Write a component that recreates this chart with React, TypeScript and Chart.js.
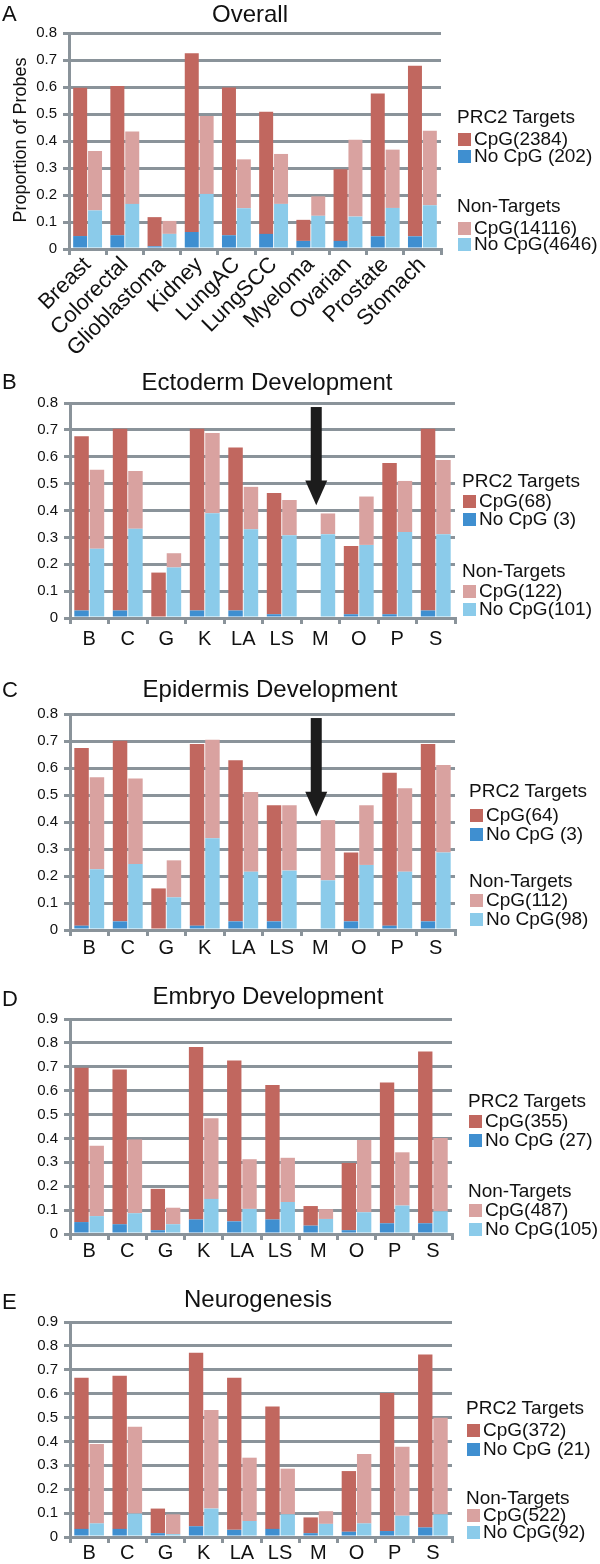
import React, { useEffect, useRef } from "react";
import { Chart, registerables } from "chart.js";

Chart.register(...registerables);

const FONT = "'Liberation Sans', Arial, Helvetica, sans-serif";

// ---------- categories ----------
const longCategories = ["Breast", "Colorectal", "Glioblastoma", "Kidney", "LungAC", "LungSCC", "Myeloma", "Ovarian", "Prostate", "Stomach"];
const shortCategories = ["B", "C", "G", "K", "LA", "LS", "M", "O", "P", "S"];

// ---------- tick labels ----------
const yTickLabels08 = ["0", "0.1", "0.2", "0.3", "0.4", "0.5", "0.6", "0.7", "0.8"];
const yTickLabels09 = ["0", "0.1", "0.2", "0.3", "0.4", "0.5", "0.6", "0.7", "0.8", "0.9"];

// ---------- A: Overall ----------
const overallPrc2NoCpG = [0.048, 0.051, 0.010, 0.063, 0.051, 0.056, 0.030, 0.030, 0.047, 0.047];
const overallPrc2CpG = [0.549, 0.553, 0.108, 0.662, 0.547, 0.452, 0.078, 0.265, 0.529, 0.632];
const overallNonNoCpG = [0.143, 0.167, 0.056, 0.204, 0.151, 0.167, 0.123, 0.120, 0.152, 0.162];
const overallNonCpG = [0.220, 0.268, 0.048, 0.289, 0.181, 0.185, 0.072, 0.285, 0.216, 0.276];
const overallLegend = ["CpG(2384)", "No CpG (202)", "CpG(14116)", "No CpG(4646)"];

// ---------- B: Ectoderm Development ----------
const ectoPrc2NoCpG = [0.028, 0.028, 0.0, 0.028, 0.028, 0.014, 0.0, 0.014, 0.014, 0.028];
const ectoPrc2CpG = [0.648, 0.676, 0.169, 0.676, 0.606, 0.451, 0.0, 0.254, 0.563, 0.676];
const ectoNonNoCpG = [0.258, 0.332, 0.188, 0.390, 0.330, 0.308, 0.312, 0.272, 0.320, 0.312];
const ectoNonCpG = [0.294, 0.215, 0.053, 0.298, 0.158, 0.131, 0.077, 0.180, 0.190, 0.276];
const ectoLegend = ["CpG(68)", "No CpG (3)", "CpG(122)", "No CpG(101)"];

// ---------- C: Epidermis Development ----------
const epiPrc2NoCpG = [0.016, 0.032, 0.0, 0.016, 0.032, 0.032, 0.0, 0.032, 0.016, 0.032];
const epiPrc2CpG = [0.658, 0.669, 0.154, 0.673, 0.597, 0.430, 0.0, 0.255, 0.566, 0.657];
const epiNonNoCpG = [0.225, 0.244, 0.121, 0.340, 0.216, 0.220, 0.184, 0.241, 0.216, 0.287];
const epiNonCpG = [0.341, 0.317, 0.137, 0.365, 0.295, 0.242, 0.223, 0.221, 0.309, 0.324];
const epiLegend = ["CpG(64)", "No CpG (3)", "CpG(112)", "No CpG(98)"];

// ---------- D: Embryo Development ----------
const embPrc2NoCpG = [0.050, 0.041, 0.016, 0.061, 0.053, 0.061, 0.035, 0.016, 0.045, 0.045];
const embPrc2CpG = [0.646, 0.648, 0.173, 0.722, 0.673, 0.563, 0.082, 0.281, 0.589, 0.719];
const embNonNoCpG = [0.075, 0.087, 0.041, 0.147, 0.105, 0.134, 0.063, 0.091, 0.119, 0.095];
const embNonCpG = [0.294, 0.309, 0.069, 0.338, 0.208, 0.185, 0.041, 0.303, 0.223, 0.307];
const embLegend = ["CpG(355)", "No CpG (27)", "CpG(487)", "No CpG(105)"];

// ---------- E: Neurogenesis ----------
const neuPrc2NoCpG = [0.034, 0.034, 0.016, 0.045, 0.030, 0.034, 0.016, 0.022, 0.025, 0.040];
const neuPrc2CpG = [0.633, 0.641, 0.103, 0.726, 0.637, 0.512, 0.066, 0.254, 0.578, 0.724];
const neuNonNoCpG = [0.057, 0.098, 0.012, 0.119, 0.067, 0.095, 0.055, 0.057, 0.089, 0.095];
const neuNonCpG = [0.332, 0.364, 0.083, 0.413, 0.265, 0.191, 0.053, 0.290, 0.289, 0.404];
const neuLegend = ["CpG(372)", "No CpG (21)", "CpG(522)", "No CpG(92)"];

const groupHeadings = ["PRC2 Targets", "Non-Targets"];

// arrow annotation (value positions on the M category)
const arrowCategory = 6;
const arrowTop = 0.785;
const arrowHead = 0.512;
const arrowTip = 0.42;

// ---------- colours ----------
const DARK_RED = "#C1675F";
const PINK = "#D9A2A0";
const DARK_BLUE = "#3F8FD0";
const LIGHT_BLUE = "#8BCBEA";
const GRID = "#8A939A";
const TEXT = "#111111";

const arrowPlugin = {
  id: "panelArrow",
  afterDatasetsDraw(chart: any) {
    const { ctx, scales } = chart;
    const x = scales.x;
    const y = scales.y;
    const cx = x.getPixelForValue(arrowCategory) - 4;
    const yTop = y.getPixelForValue(arrowTop);
    const yHead = y.getPixelForValue(arrowHead);
    const yTip = y.getPixelForValue(arrowTip);
    ctx.save();
    ctx.fillStyle = "#1c1c1c";
    ctx.fillRect(cx - 5.5, yTop, 11, yHead - yTop + 1);
    ctx.beginPath();
    ctx.moveTo(cx - 11, yHead);
    ctx.lineTo(cx + 11, yHead);
    ctx.lineTo(cx, yTip);
    ctx.closePath();
    ctx.fill();
    ctx.restore();
  },
};

type PanelCfg = {
  key: string;
  top: number;
  h: number;
  left: number;
  right: number;
  xHeight: number;
  yMax: number;
  yLabels: string[];
  categories: string[];
  rotation: number;
  xFont: number;
  xPad: number;
  arrow: boolean;
  prc2NoCpG: number[];
  prc2CpG: number[];
  nonNoCpG: number[];
  nonCpG: number[];
};

const panels: PanelCfg[] = [
  { key: "A", top: 18, h: 344, left: 69, right: 441, xHeight: 113, yMax: 0.8, yLabels: yTickLabels08, categories: longCategories, rotation: 45, xFont: 22, xPad: -3, arrow: false, prc2NoCpG: overallPrc2NoCpG, prc2CpG: overallPrc2CpG, nonNoCpG: overallNonNoCpG, nonCpG: overallNonCpG },
  { key: "B", top: 388, h: 272, left: 70, right: 455, xHeight: 42, yMax: 0.8, yLabels: yTickLabels08, categories: shortCategories, rotation: 0, xFont: 20, xPad: 3, arrow: true, prc2NoCpG: ectoPrc2NoCpG, prc2CpG: ectoPrc2CpG, nonNoCpG: ectoNonNoCpG, nonCpG: ectoNonCpG },
  { key: "C", top: 699, h: 266, left: 70, right: 455, xHeight: 35, yMax: 0.8, yLabels: yTickLabels08, categories: shortCategories, rotation: 0, xFont: 20, xPad: 0, arrow: true, prc2NoCpG: epiPrc2NoCpG, prc2CpG: epiPrc2CpG, nonNoCpG: epiNonNoCpG, nonCpG: epiNonCpG },
  { key: "D", top: 1004, h: 264, left: 70, right: 452, xHeight: 34, yMax: 0.9, yLabels: yTickLabels09, categories: shortCategories, rotation: 0, xFont: 20, xPad: -1, arrow: false, prc2NoCpG: embPrc2NoCpG, prc2CpG: embPrc2CpG, nonNoCpG: embNonNoCpG, nonCpG: embNonCpG },
  { key: "E", top: 1307, h: 257, left: 70, right: 452, xHeight: 27, yMax: 0.9, yLabels: yTickLabels09, categories: shortCategories, rotation: 0, xFont: 20, xPad: -2, arrow: false, prc2NoCpG: neuPrc2NoCpG, prc2CpG: neuPrc2CpG, nonNoCpG: neuNonNoCpG, nonCpG: neuNonCpG },
];

function BarPanel({ cfg }: { cfg: PanelCfg }) {
  const ref = useRef<HTMLCanvasElement | null>(null);
  useEffect(() => {
    if (!ref.current) return;
    const chart = new Chart(ref.current, {
      type: "bar",
      data: {
        labels: cfg.categories,
        datasets: [
          { label: "PRC2 No CpG", data: cfg.prc2NoCpG, backgroundColor: DARK_BLUE, stack: "prc2" },
          { label: "PRC2 CpG", data: cfg.prc2CpG, backgroundColor: DARK_RED, stack: "prc2" },
          { label: "Non-Target No CpG", data: cfg.nonNoCpG, backgroundColor: LIGHT_BLUE, stack: "non" },
          { label: "Non-Target CpG", data: cfg.nonCpG, backgroundColor: PINK, stack: "non" },
        ],
      },
      options: {
        responsive: false,
        animation: false,
        devicePixelRatio: 1,
        layout: { padding: { top: 10, left: 0, right: 600 - cfg.right, bottom: 0 } },
        datasets: { bar: { categoryPercentage: 0.8, barPercentage: 0.94 } } as any,
        plugins: {
          legend: { display: false },
          tooltip: { enabled: false },
          title: { display: false },
        },
        scales: {
          x: {
            stacked: true,
            offset: true,
            grid: {
              display: true,
              offset: true,
              drawOnChartArea: false,
              drawTicks: true,
              tickLength: 6,
              lineWidth: 3,
              color: GRID,
            },
            border: { display: true, color: GRID, width: 3 },
            ticks: {
              autoSkip: false,
              maxRotation: cfg.rotation,
              minRotation: cfg.rotation,
              padding: cfg.xPad,
              color: TEXT,
              font: { family: FONT, size: cfg.xFont },
            },
            afterFit: (s: any) => {
              s.height = cfg.xHeight;
            },
          },
          y: {
            stacked: true,
            min: 0,
            max: cfg.yMax,
            grid: {
              color: GRID,
              lineWidth: 3,
              drawTicks: true,
              tickLength: 6,
            },
            border: { display: true, color: GRID, width: 3 },
            ticks: {
              stepSize: 0.1,
              padding: 6,
              color: TEXT,
              font: { family: FONT, size: 15 },
              callback: (_v: any, i: number) => cfg.yLabels[i],
            },
            afterFit: (s: any) => {
              s.width = cfg.left;
            },
          },
        },
      },
      plugins: cfg.arrow ? [arrowPlugin] : [],
    } as any);
    return () => chart.destroy();
  }, [cfg]);
  return (
    <canvas
      ref={ref}
      width={600}
      height={cfg.h}
      style={{ position: "absolute", left: 0, top: cfg.top, width: 600, height: cfg.h }}
    />
  );
}

// ---------- text overlays ----------
type TitleCfg = { letter: string; title: string; center: number; baseline: number; letterBaseline: number };
const titles: TitleCfg[] = [
  { letter: "A", title: "Overall", center: 250, baseline: 22, letterBaseline: 22 },
  { letter: "B", title: "Ectoderm Development", center: 267, baseline: 390, letterBaseline: 390 },
  { letter: "C", title: "Epidermis Development", center: 270, baseline: 697, letterBaseline: 698 },
  { letter: "D", title: "Embryo Development", center: 268, baseline: 1004, letterBaseline: 1007 },
  { letter: "E", title: "Neurogenesis", center: 258, baseline: 1307, letterBaseline: 1310 },
];

type LegendCfg = { x: number; rows: number[]; labels: string[] };
const legends: LegendCfg[] = [
  { x: 457, rows: [117.5, 139.5, 156, 206.5, 228.5, 244], labels: overallLegend },
  { x: 462, rows: [481, 501, 519, 571.5, 591, 609], labels: ectoLegend },
  { x: 469, rows: [791.5, 815, 834, 881.5, 900.5, 919], labels: epiLegend },
  { x: 468, rows: [1101.5, 1121.5, 1140, 1191.5, 1210.5, 1229], labels: embLegend },
  { x: 466, rows: [1408.5, 1430, 1449, 1498.5, 1515, 1532], labels: neuLegend },
];
const legendColors = [DARK_RED, DARK_BLUE, PINK, LIGHT_BLUE];

const TITLE_SIZE = 24;
const LETTER_SIZE = 22;
const LEGEND_SIZE = 19;

function textTop(baseline: number, size: number) {
  return baseline - 0.8465 * size;
}

function Legend({ cfg }: { cfg: LegendCfg }) {
  const items: React.ReactNode[] = [];
  const headingRows = [cfg.rows[0], cfg.rows[3]];
  const itemRows = [cfg.rows[1], cfg.rows[2], cfg.rows[4], cfg.rows[5]];
  const off = LEGEND_SIZE * 0.545;
  headingRows.forEach((r, i) => {
    items.push(
      <div
        key={"h" + i}
        style={{
          position: "absolute",
          left: cfg.x,
          top: r - off,
          fontSize: LEGEND_SIZE,
          lineHeight: LEGEND_SIZE + "px",
          whiteSpace: "nowrap",
          color: TEXT,
        }}
      >
        {groupHeadings[i]}
      </div>
    );
  });
  itemRows.forEach((r, i) => {
    items.push(
      <div
        key={"s" + i}
        style={{ position: "absolute", left: cfg.x + 1, top: r - 6.5, width: 13, height: 13, background: legendColors[i] }}
      />
    );
    items.push(
      <div
        key={"t" + i}
        style={{
          position: "absolute",
          left: cfg.x + 17,
          top: r - off,
          fontSize: LEGEND_SIZE,
          lineHeight: LEGEND_SIZE + "px",
          whiteSpace: "nowrap",
          color: TEXT,
        }}
      >
        {cfg.labels[i]}
      </div>
    );
  });
  return <>{items}</>;
}

export default function App() {
  return (
    <div
      style={{
        position: "absolute",
        left: 0,
        top: 0,
        width: 600,
        height: 1564,
        background: "#ffffff",
        fontFamily: FONT,
        overflow: "hidden",
      }}
    >
      {panels.map((p) => (
        <BarPanel key={p.key} cfg={p} />
      ))}
      {titles.map((t) => (
        <React.Fragment key={t.letter}>
          <div
            style={{
              position: "absolute",
              left: 2,
              top: textTop(t.letterBaseline, LETTER_SIZE),
              fontSize: LETTER_SIZE,
              lineHeight: LETTER_SIZE + "px",
              color: TEXT,
            }}
          >
            {t.letter}
          </div>
          <div
            style={{
              position: "absolute",
              left: t.center - 200,
              width: 400,
              textAlign: "center",
              top: textTop(t.baseline, TITLE_SIZE),
              fontSize: TITLE_SIZE,
              lineHeight: TITLE_SIZE + "px",
              whiteSpace: "nowrap",
              color: TEXT,
            }}
          >
            {t.title}
          </div>
        </React.Fragment>
      ))}
      <div
        style={{
          position: "absolute",
          left: 20 - 100,
          top: 140 - 10,
          width: 200,
          height: 20,
          lineHeight: "20px",
          fontSize: 18,
          textAlign: "center",
          transform: "rotate(-90deg)",
          whiteSpace: "nowrap",
          color: TEXT,
        }}
      >
        Proportion of Probes
      </div>
      {legends.map((l, i) => (
        <Legend key={i} cfg={l} />
      ))}
    </div>
  );
}
